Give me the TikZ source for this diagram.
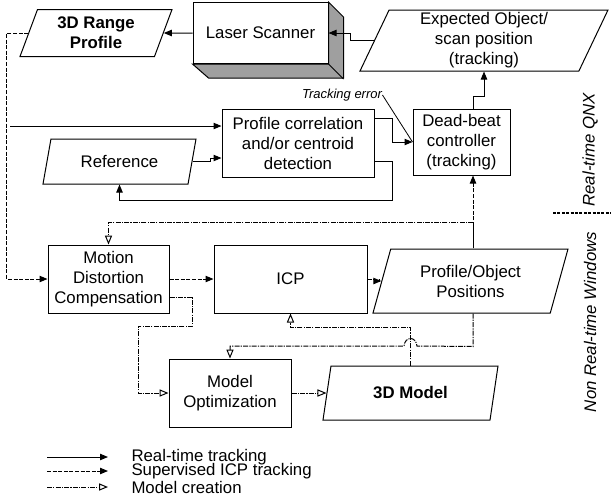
\documentclass[tikz,border=0pt]{standalone}
\usepackage{fontspec}
\setmainfont{Liberation Sans}
\usepackage{tikz}
\usetikzlibrary{shapes.geometric,arrows.meta,calc}
\newcommand\dfont{\fontsize{8.4}{10}\selectfont}

\begin{document}
\begin{tikzpicture}[x=0.5pt,y=-0.5pt,font=\dfont,line width=0.5pt,
	box/.style={shape=rectangle,draw=black,fill=white,align=center,inner sep=1pt},
	para/.style={trapezium,trapezium left angle=64,trapezium right angle=116,trapezium stretches body,draw=black,fill=white,align=center,inner sep=1pt},
	rt/.style={-{Triangle[length=4pt,width=3.2pt]}},
	sup/.style={-{Triangle[length=4pt,width=3.2pt]},dash pattern=on 2pt off 0.8pt},
	mc/.style={-{Triangle[open,length=4.5pt,width=3.6pt]},dash pattern=on 2.5pt off 0.6pt on 0.6pt off 0.6pt},
	note/.style={font=\fontsize{6.5}{8}\selectfont\itshape,inner sep=0pt}]
	\useasboundingbox (0,0) rectangle (611,499);

	\node[box,minimum width=67.5pt,minimum height=30.5pt] (laser) at (260.5,33) {Laser Scanner};
	\node[box,minimum width=76pt,minimum height=34pt] (corr) at (298,143) {Profile correlation\\and/or centroid\\detection};
	\node[box,minimum width=48.5pt,minimum height=33pt] (dead) at (461.5,142) {Dead-beat\\controller\\(tracking)};
	\node[box,minimum width=60.5pt,minimum height=34pt] (mdc) at (108.5,279) {Motion\\Distortion\\Compensation};
	\node[box,minimum width=76.5pt,minimum height=34pt] (icp) at (290.5,279) {ICP};
	\node[box,minimum width=61pt,minimum height=34pt] (opt) at (230,393) {Model\\Optimization};

	\node[para,font=\dfont\bfseries,minimum width=76pt,minimum height=23.5pt] (range) at (96,33) {3D Range\\Profile};
	\node[para,minimum width=124pt,minimum height=30.5pt] (exp) at (484,40.5) {Expected Object/\\scan position\\(tracking)};
	\node[para,minimum width=76.5pt,minimum height=22.5pt] (ref) at (119.5,161.5) {Reference};
	\node[para,minimum width=97.5pt,minimum height=32pt] (posn) at (470.5,281) {Profile/Object\\Positions};
	\node[para,font=\dfont\bfseries,minimum width=87.5pt,minimum height=27pt] (model) at (410.5,393) {3D Model};

	\filldraw[fill=gray!75] (laser.north east) -- ++(15,15) -- ++(0,61) -- ++(-135,0) -- (laser.south west) -- (laser.south east) -- cycle;
	\draw (laser.south east) -- ++(15,15);

	\draw[rt] (laser.west) -- (range.east);
	\draw[rt] (exp.west) -- ++(-23,0) |- (laser.east);
	\draw[rt] ($(dead.north)+(11.5,0)$) -- ++(0,-12) -| (exp.center |- exp.south);
	\draw[sup] (range.west) -- ++(-21.5,0) |- (mdc.west);
	\coordinate (tap) at (10,126);
	\draw[rt] (tap) -- (tap -| corr.west);
	\draw[rt] (ref.east) -- ++(18,0) |- ($(corr.west)+(0,15)$);
	\draw[rt] ($(corr.east)+(0,18)$) -- ++(18,0) -- ++(0,39) -| (ref.center |- ref.south);
	\draw[rt] ($(corr.east)+(0,-25)$) -- ++(18,0) |- (dead.west);
	\node[note] (err) at (342,95) {Tracking error};
	\draw[line width=0.4pt] (err.east) -- (dead.west);

	\draw[sup] (mdc.east) -- (icp.west);
	\draw[sup] (icp.east) -- ++(12,0) |- (posn.west);
	\coordinate (vbus) at ($(dead.south)+(11.5,0)$);
	\draw[sup] (vbus |- posn.north) -- (vbus);
	\draw[mc] (vbus |- posn.north) -- ++(0,-26) -| (mdc.north);
	\draw[mc] (model.center |- model.north) -- ++(0,-38) -| (icp.south);
	\draw[mc] (vbus |- posn.south) -- ++(0,33) -- (417,346) .. controls (416,336) and (405,336) .. (404,346) -| (opt.north);
	\draw[mc] ($(mdc.east)+(0,18)$) -- ++(23,0) |- (138,326) |- (opt.west);
	\draw[mc] (opt.east) -- (model.west);

	\node[rotate=90,font=\dfont\itshape] (qnx) at (590,150) {Real-time QNX};
	\node[rotate=90,font=\dfont\itshape] (win) at (590,322) {Non Real-time Windows};
	\draw[line width=1pt,dash pattern=on 1.5pt off 0.7pt] (553,213) -- (611,213);

	\node[anchor=west,inner sep=0pt] (k1) at (131,457) {Real-time tracking};
	\node[anchor=west,inner sep=0pt] (k2) at (131,471) {Supervised ICP tracking};
	\node[anchor=west,inner sep=0pt] (k3) at (131,487) {Model creation};
	\draw[rt] ($(k1.west)+(-84,0)$) -- ++(61,0);
	\draw[sup] ($(k2.west)+(-84,0)$) -- ++(61,0);
	\draw[mc] ($(k3.west)+(-84,0)$) -- ++(61,0);
\end{tikzpicture}
\end{document}
